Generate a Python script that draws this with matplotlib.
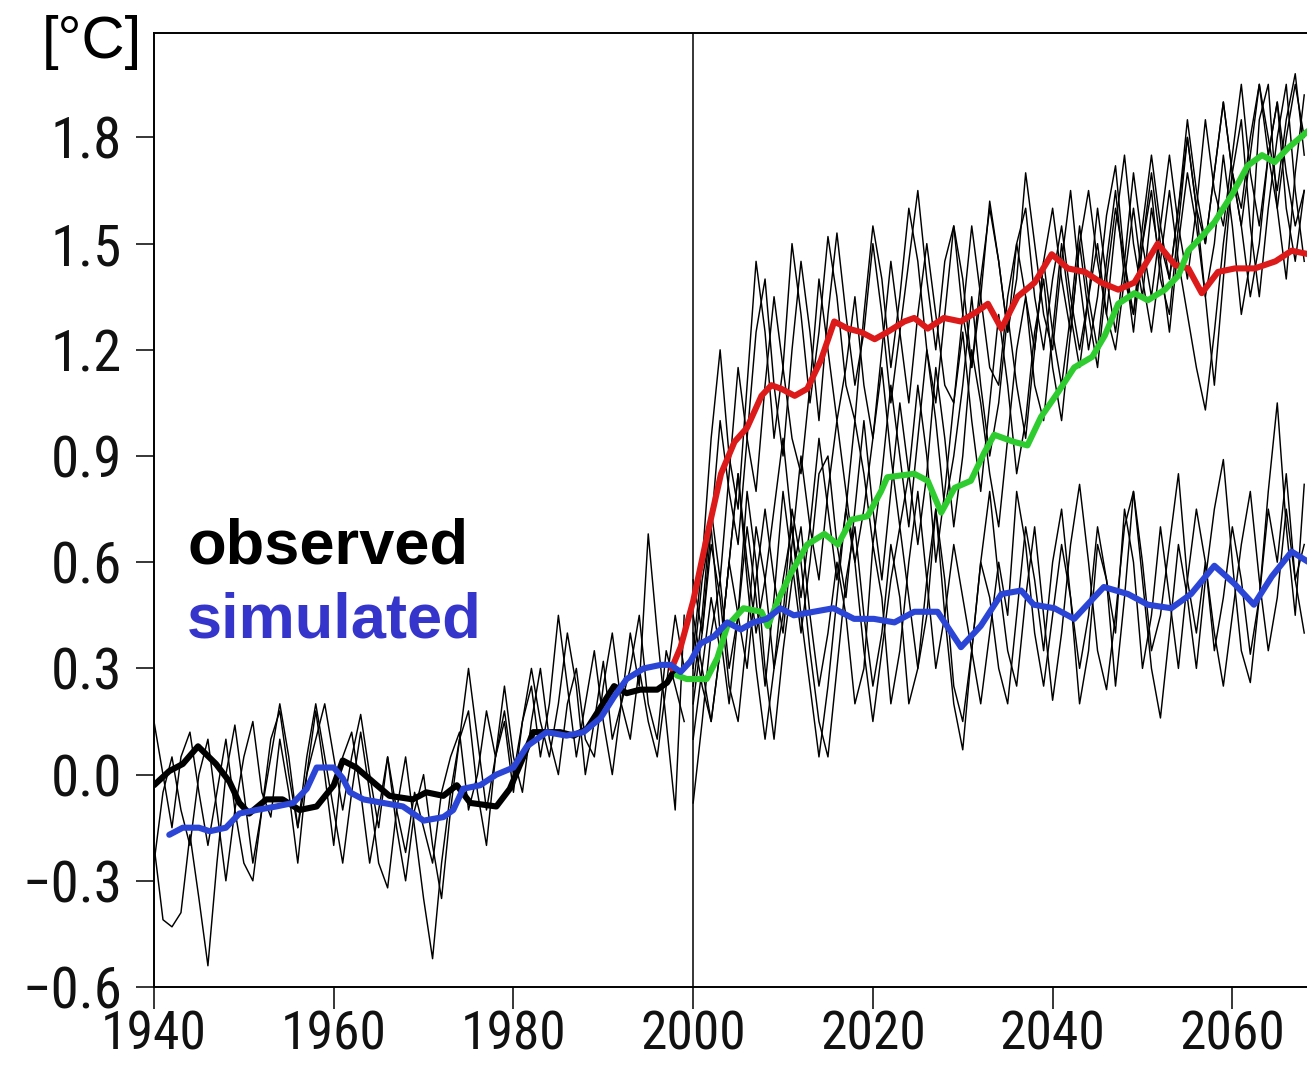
import numpy as np
import matplotlib
matplotlib.use("Agg")
import matplotlib.pyplot as plt
from matplotlib import font_manager

# ---------------- data ----------------
obs_years = [1940, 1941.7, 1943.2, 1944.9, 1946.9, 1948.4, 1949.5, 1950.6, 1952.5, 1954.3, 1956.2,
             1958.1, 1960, 1961, 1962.5, 1964.8, 1966.2, 1968.8, 1970.3, 1972.2, 1973.7, 1975.2,
             1978.1, 1979.6, 1981.1, 1982.2, 1985.2, 1986.7, 1988.2, 1989.7, 1991.2, 1992.6,
             1994.1, 1996, 1997.1, 1997.8]
obs_vals = [-0.03, 0.01, 0.03, 0.08, 0.03, -0.02, -0.08, -0.11, -0.07, -0.07, -0.10,
            -0.09, -0.03, 0.04, 0.02, -0.03, -0.06, -0.07, -0.05, -0.06, -0.03, -0.08,
            -0.09, -0.04, 0.05, 0.12, 0.12, 0.11, 0.13, 0.19, 0.25, 0.23,
            0.24, 0.24, 0.26, 0.29]

sim_years = [1941.7, 1943.2, 1945, 1946.2, 1948, 1949.5, 1951.4, 1953.6, 1955.5, 1957, 1958.1,
             1960, 1961, 1961.8, 1963.3, 1965.5, 1967.7, 1970, 1972.2, 1973.3, 1974.4, 1976.3,
             1978.1, 1980, 1981.5, 1983.7, 1985.9, 1987.8, 1989.7, 1991.2, 1992.6, 1994.5,
             1996.4, 1997.5, 1998.6, 1999.7, 2000.8, 2002.3, 2003.8, 2005.3, 2006.7, 2008.2,
             2009.7, 2011.2, 2013.4, 2015.6, 2017.9, 2020.1, 2022.4, 2024.6, 2027.2, 2029.8,
             2032, 2034.3, 2036.5, 2037.9, 2040.2, 2042.4, 2045.7, 2048.4, 2050.6, 2053.2,
             2055.4, 2058, 2060.2, 2062.4, 2064.4, 2066.6, 2068.5]
sim_vals = [-0.17, -0.15, -0.15, -0.16, -0.15, -0.11, -0.10, -0.09, -0.08, -0.04, 0.02,
            0.02, -0.01, -0.05, -0.07, -0.08, -0.09, -0.13, -0.12, -0.10, -0.04, -0.03,
            0.00, 0.02, 0.08, 0.12, 0.11, 0.12, 0.16, 0.22, 0.27, 0.30,
            0.31, 0.31, 0.29, 0.32, 0.37, 0.39, 0.43, 0.41, 0.43, 0.44,
            0.47, 0.45, 0.46, 0.47, 0.44, 0.44, 0.43, 0.46, 0.46, 0.36,
            0.42, 0.51, 0.52, 0.48, 0.47, 0.44, 0.53, 0.51, 0.48, 0.47,
            0.51, 0.59, 0.54, 0.48, 0.56, 0.63, 0.60]

red_years = [1997.6, 1998.6, 2000, 2001.6, 2003.1, 2004.6, 2006, 2007.6, 2008.7, 2009.8, 2011.3,
             2012.7, 2014.2, 2015.7, 2017.2, 2018.7, 2020.2, 2021.6, 2023.5, 2024.6, 2026.1,
             2027.9, 2029.8, 2031.7, 2032.8, 2034.3, 2036.1, 2038, 2039.9, 2041.7, 2043.6,
             2045.4, 2047.3, 2049.1, 2051.7, 2053.6, 2055.1, 2056.6, 2058.4, 2060.3, 2062.5,
             2064.8, 2066.6, 2068.5]
red_vals = [0.30, 0.36, 0.49, 0.68, 0.85, 0.94, 0.98, 1.07, 1.10, 1.09, 1.07,
            1.09, 1.17, 1.28, 1.26, 1.25, 1.23, 1.25, 1.28, 1.29, 1.26,
            1.29, 1.28, 1.31, 1.33, 1.26, 1.35, 1.39, 1.47, 1.43, 1.42,
            1.39, 1.37, 1.39, 1.50, 1.44, 1.43, 1.36, 1.42, 1.43, 1.43,
            1.45, 1.48, 1.47]

green_years = [1998.2, 1999.3, 2001.5, 2002.7, 2003.8, 2005.6, 2007.6, 2008.3, 2009.4, 2010.9,
               2012.7, 2014.6, 2016.1, 2017.6, 2019.4, 2020.9, 2021.6, 2024.6, 2026.1, 2027.6,
               2029.1, 2030.9, 2032.4, 2033.5, 2035.7, 2037.2, 2038.7, 2040.6, 2042.4, 2044.4,
               2045.8, 2047.3, 2049.1, 2050.6, 2052.5, 2054, 2055.1, 2056.6, 2058, 2060,
               2061.7, 2063.3, 2064.7, 2066.2, 2068.5]
green_vals = [0.28, 0.27, 0.27, 0.33, 0.42, 0.47, 0.46, 0.42, 0.49, 0.57,
              0.65, 0.68, 0.65, 0.72, 0.73, 0.80, 0.84, 0.85, 0.83, 0.74,
              0.81, 0.83, 0.91, 0.96, 0.94, 0.93, 1.01, 1.08, 1.15, 1.18,
              1.24, 1.33, 1.36, 1.34, 1.37, 1.41, 1.48, 1.52, 1.56, 1.64,
              1.72, 1.75, 1.73, 1.77, 1.82]

# thin ensemble members (annual values)
hist_start = 1940
hist_1 = [-0.20, -0.41, -0.43, -0.39, -0.17, -0.35, -0.54, -0.25, 0.00, 0.14,
          -0.05, -0.25, -0.10, 0.10, 0.18, 0.00, -0.15, 0.05, 0.20, 0.05,
          -0.10, -0.25, -0.05, 0.12, -0.05, -0.25, -0.32, -0.10, 0.05, -0.15,
          -0.35, -0.52, -0.25, -0.05, 0.10, 0.30, 0.10, -0.10, 0.05, 0.18,
          0.00, 0.15, 0.25, 0.05, 0.20, 0.45, 0.25, 0.05, 0.20, 0.35,
          0.15, 0.00, 0.20, 0.40, 0.25, 0.68, 0.40, 0.15, -0.10, 0.45]
hist_2 = [0.15, 0.00, -0.15, 0.05, 0.12, -0.05, -0.20, -0.05, 0.10, -0.10,
          -0.25, -0.30, -0.10, 0.05, 0.20, 0.05, -0.15, 0.00, 0.18, 0.00,
          -0.20, 0.05, 0.12, -0.05, -0.25, -0.10, 0.05, -0.15, -0.30, -0.10,
          0.00, -0.20, -0.35, -0.10, 0.10, 0.18, -0.05, -0.20, 0.05, 0.25,
          0.05, -0.05, 0.15, 0.30, 0.10, 0.00, 0.20, 0.30, 0.10, 0.05,
          0.25, 0.40, 0.20, 0.10, 0.30, 0.15, 0.05, 0.25, 0.45, 0.30]
hist_3 = [-0.25, -0.05, 0.05, -0.10, -0.20, 0.00, 0.10, -0.10, -0.30, -0.10,
          0.05, 0.15, -0.05, -0.12, 0.10, -0.05, -0.25, 0.00, 0.10, 0.20,
          0.05, -0.10, 0.05, 0.17, 0.00, -0.15, 0.05, -0.10, -0.22, -0.05,
          -0.15, -0.25, -0.05, 0.05, 0.12, -0.10, 0.00, 0.18, 0.05, 0.15,
          -0.05, 0.15, 0.30, 0.15, 0.05, 0.20, 0.40, 0.25, 0.00, 0.15,
          0.32, 0.10, 0.20, 0.30, 0.45, 0.20, 0.10, 0.35, 0.25, 0.15]

fut_start = 2000
low_1 = [0.20, 0.40, 0.65, 0.50, 0.25, 0.15, 0.40, 0.70, 0.55, 0.30,
         0.45, 0.75, 0.60, 0.35, 0.15, 0.05, 0.30, 0.55, 0.70, 0.45,
         0.25, 0.40, 0.65, 0.50, 0.20, 0.30, 0.55, 0.75, 0.45, 0.20,
         0.07, 0.35, 0.60, 0.80, 0.55, 0.35, 0.25, 0.50, 0.70, 0.45,
         0.21, 0.40, 0.65, 0.82, 0.60, 0.35, 0.24, 0.45, 0.70, 0.80,
         0.55, 0.30, 0.16, 0.40, 0.65, 0.50, 0.30, 0.55, 0.75, 0.89,
         0.60, 0.35, 0.26, 0.50, 0.80, 1.05, 0.70, 0.45, 0.82]
low_2 = [0.45, 0.30, 0.15, 0.35, 0.60, 0.85, 0.55, 0.30, 0.10, 0.30,
         0.55, 0.70, 0.45, 0.25, 0.05, 0.25, 0.50, 0.75, 0.60, 0.35,
         0.15, 0.35, 0.55, 0.70, 0.50, 0.30, 0.45, 0.75, 0.55, 0.25,
         0.15, 0.35, 0.60, 0.50, 0.30, 0.20, 0.45, 0.70, 0.55, 0.35,
         0.60, 0.75, 0.50, 0.20, 0.35, 0.65, 0.55, 0.40, 0.75, 0.60,
         0.30, 0.45, 0.70, 0.50, 0.30, 0.55, 0.75, 0.60, 0.40, 0.25,
         0.45, 0.65, 0.80, 0.55, 0.35, 0.50, 0.75, 0.55, 0.40]
low_3 = [0.30, 0.55, 0.70, 0.40, 0.20, 0.45, 0.80, 0.60, 0.30, 0.10,
         0.35, 0.55, 0.70, 0.45, 0.25, 0.40, 0.60, 0.45, 0.20, 0.30,
         0.65, 0.50, 0.20, 0.35, 0.60, 0.80, 0.55, 0.30, 0.45, 0.65,
         0.50, 0.35, 0.20, 0.40, 0.60, 0.45, 0.80, 0.65, 0.40, 0.25,
         0.45, 0.65, 0.50, 0.30, 0.45, 0.70, 0.55, 0.25, 0.50, 0.80,
         0.60, 0.35, 0.45, 0.65, 0.85, 0.55, 0.40, 0.60, 0.35, 0.50,
         0.70, 0.55, 0.34, 0.50, 0.75, 0.60, 0.85, 0.55, 0.65]
high_1 = [0.35, 0.60, 0.95, 1.20, 0.90, 0.75, 1.10, 1.45, 1.25, 0.95,
          1.15, 1.50, 1.30, 1.05, 1.25, 1.52, 1.35, 1.10, 1.00, 1.30,
          1.55, 1.40, 1.15, 1.35, 1.60, 1.45, 1.20, 1.05, 1.30, 1.55,
          1.40, 1.15, 1.35, 1.62, 1.45, 1.25, 1.40, 1.70, 1.50, 1.30,
          1.20, 1.45, 1.65, 1.40, 1.20, 1.35, 1.58, 1.72, 1.45, 1.25,
          1.50, 1.65, 1.40, 1.30, 1.55, 1.80, 1.60, 1.35, 1.50, 1.75,
          1.55, 1.30, 1.45, 1.85, 1.95, 1.60, 1.40, 1.70, 1.92]
high_2 = [0.55, 0.40, 0.70, 1.00, 0.80, 0.65, 0.95, 1.25, 1.40, 1.10,
          0.90, 1.20, 1.45, 1.25, 1.00, 1.30, 1.53, 1.30, 1.10, 1.25,
          1.50, 1.30, 1.05, 1.25, 1.45, 1.65, 1.40, 1.20, 1.45, 1.55,
          1.30, 1.15, 1.40, 1.60, 1.45, 1.25, 1.50, 1.35, 1.20, 1.45,
          1.60, 1.40, 1.25, 1.50, 1.65, 1.45, 1.30, 1.55, 1.75, 1.50,
          1.35, 1.60, 1.45, 1.25, 1.50, 1.70, 1.55, 1.35, 1.10, 1.40,
          1.70, 1.85, 1.55, 1.35, 1.60, 1.80, 1.95, 1.65, 1.45]
high_3 = [0.25, 0.45, 0.75, 0.55, 0.85, 1.15, 0.95, 0.80, 1.10, 1.35,
          1.15, 0.95, 0.85, 1.10, 1.40, 1.20, 1.00, 1.15, 1.35, 1.10,
          0.95, 1.20, 1.45, 1.25, 1.05, 1.30, 1.50, 1.30, 1.10, 1.05,
          1.30, 1.55, 1.35, 1.15, 1.10, 1.35, 1.50, 1.60, 1.35, 1.20,
          1.40, 1.55, 1.35, 1.20, 1.35, 1.50, 1.30, 1.20, 1.40, 1.60,
          1.40, 1.25, 1.45, 1.65, 1.45, 1.30, 1.15, 1.03, 1.25, 1.50,
          1.70, 1.55, 1.35, 1.50, 1.75, 1.90, 1.60, 1.45, 1.65]
mid_1 = [0.40, 0.25, 0.15, 0.35, 0.60, 0.45, 0.30, 0.55, 0.75, 0.55,
         0.40, 0.65, 0.90, 0.70, 0.55, 0.80, 1.00, 0.80, 0.60, 0.75,
         0.95, 1.15, 0.90, 0.70, 0.85, 1.10, 0.90, 0.60, 0.80, 1.05,
         1.25, 1.00, 0.80, 1.05, 1.30, 1.10, 0.85, 1.00, 1.25, 1.40,
         1.15, 1.00, 1.25, 1.50, 1.30, 1.15, 1.40, 1.60, 1.45, 1.30,
         1.50, 1.70, 1.50, 1.40, 1.60, 1.85, 1.65, 1.50, 1.70, 1.90,
         1.70, 1.55, 1.75, 1.95, 1.80, 1.65, 1.85, 1.98, 1.75]
mid_2 = [0.10, 0.30, 0.50, 0.35, 0.60, 0.85, 0.60, 0.40, 0.55, 0.75,
         0.95, 0.70, 0.50, 0.70, 0.95, 0.75, 0.55, 0.75, 1.00, 0.85,
         0.65, 0.85, 1.10, 0.90, 0.70, 0.95, 1.20, 1.00, 0.75, 0.90,
         1.10, 1.35, 1.10, 0.90, 1.05, 1.30, 1.10, 0.95, 1.20, 1.45,
         1.25, 1.10, 1.30, 1.55, 1.35, 1.20, 1.45, 1.65, 1.40, 1.30,
         1.55, 1.75, 1.55, 1.40, 1.60, 1.80, 1.60, 1.50, 1.70, 1.90,
         1.70, 1.60, 1.80, 1.95, 1.75, 1.60, 1.80, 1.95, 1.80]
mid_3 = [-0.08, 0.15, 0.40, 0.55, 0.30, 0.45, 0.70, 0.50, 0.25, 0.50,
         0.80, 0.60, 0.40, 0.60, 0.85, 0.90, 0.65, 0.50, 0.75, 1.00,
         0.75, 0.55, 0.80, 1.05, 0.85, 0.65, 0.85, 1.15, 0.95, 0.70,
         0.90, 1.20, 1.05, 0.85, 0.70, 0.95, 1.20, 1.35, 1.10, 1.00,
         1.25, 1.50, 1.30, 1.15, 1.35, 1.60, 1.40, 1.25, 1.45, 1.70,
         1.50, 1.35, 1.55, 1.75, 1.55, 1.40, 1.60, 1.85, 1.65, 1.55,
         1.75, 1.95, 1.70, 1.55, 1.75, 1.90, 1.70, 1.55, 1.65]

x_ticks = [1940, 1960, 1980, 2000, 2020, 2040, 2060]
y_ticks = [-0.6, -0.3, 0.0, 0.3, 0.6, 0.9, 1.2, 1.5, 1.8]
y_tick_labels = ["\u22120.6", "\u22120.3", "0.0", "0.3", "0.6", "0.9", "1.2", "1.5", "1.8"]

# ---------------- figure ----------------
W, H = 1307, 1065
fig = plt.figure(figsize=(W / 100, H / 100), dpi=100)
ax = fig.add_axes([154 / W, (H - 987) / H, 1 - 154 / W + 0.002, (987 - 33) / H])

thin_kw = dict(color="black", lw=1.05, zorder=2)
for s in (hist_1, hist_2, hist_3):
    ax.plot(np.arange(len(s)) + hist_start, s, **thin_kw)
for s in (low_1, low_2, low_3, high_1, high_2, high_3, mid_1, mid_2, mid_3):
    ax.plot(np.arange(len(s)) + fut_start, s, **thin_kw)

ax.axvline(2000, color="black", lw=1.1, zorder=3)

ax.plot(obs_years, obs_vals, color="black", lw=4.4, zorder=4, solid_capstyle="round")
ax.plot(red_years, red_vals, color="#dd1a1a", lw=4.4, zorder=5, solid_capstyle="round")
ax.plot(green_years, green_vals, color="#2fcc2f", lw=4.4, zorder=6, solid_capstyle="round")
ax.plot(sim_years, sim_vals, color="#2b45d6", lw=4.4, zorder=7, solid_capstyle="round")

ax.set_xlim(1940, 2068.6)
ax.set_ylim(-0.6, 2.095)

# choose a narrow face for the tick labels if one is installed
avail = {f.name for f in font_manager.fontManager.ttflist}
if "Liberation Sans Narrow" in avail:
    tick_family, xsize, ysize = "Liberation Sans Narrow", 42, 46
elif "Roboto Condensed" in avail:
    tick_family, xsize, ysize = "Roboto Condensed", 38.5, 41
else:
    tick_family, xsize, ysize = "Liberation Sans", 36, 39

ax.set_xticks(x_ticks)
ax.set_xticklabels([str(v) for v in x_ticks])
ax.set_yticks(y_ticks)
ax.set_yticklabels(y_tick_labels)
for lab in ax.get_xticklabels():
    lab.set_fontfamily(tick_family)
    lab.set_fontsize(xsize)
    lab.set_color("#111111")
for lab in ax.get_yticklabels():
    lab.set_fontfamily(tick_family)
    lab.set_fontsize(ysize)
    lab.set_color("#111111")
ax.tick_params(axis="x", direction="out", length=16, width=1.1, pad=0.5)
ax.tick_params(axis="y", direction="out", length=13, width=1.1, pad=10)

for sp in ("left", "bottom", "top"):
    ax.spines[sp].set_linewidth(1.4)
ax.spines["right"].set_visible(False)

fig.text(42 / W, 1 - 58 / H, "[°C]", fontsize=43, family="Liberation Sans",
         ha="left", va="baseline", color="black")
fig.text(187 / W, 1 - 563 / H, "observed", fontsize=45.5, family="Liberation Sans",
         weight="bold", ha="left", va="baseline", color="black")
fig.text(187 / W, 1 - 638 / H, "simulated", fontsize=45.5, family="Liberation Sans",
         weight="bold", ha="left", va="baseline", color="#3535cc")

fig.savefig("out.png", dpi=100)
